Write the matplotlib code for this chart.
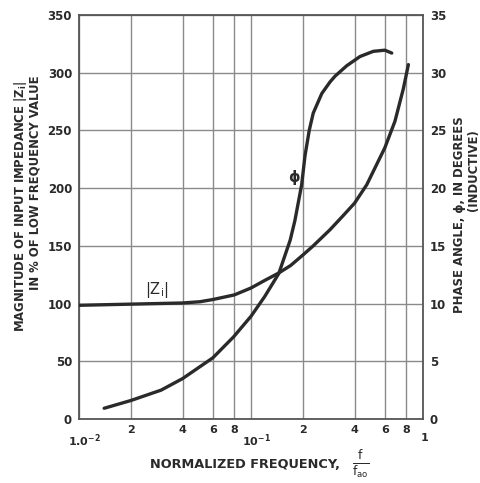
import matplotlib
matplotlib.use("Agg")
import matplotlib.pyplot as plt
from matplotlib.ticker import FixedLocator, NullFormatter
from matplotlib.transforms import ScaledTranslation

# ---- data ----
z_freq = [0.01, 0.02, 0.04, 0.0505, 0.06, 0.08, 0.1, 0.12, 0.145, 0.17, 0.2, 0.23, 0.288,
          0.34, 0.4, 0.471, 0.6, 0.687, 0.768, 0.822]
z_vals = [98.5, 99.5, 100.5, 101.6, 103.5, 107.5, 113.5, 120, 126.5, 133, 142, 150, 164,
          175.5, 187, 203, 235, 258, 286, 307]

phase_freq = [0.014, 0.02, 0.03, 0.04, 0.06, 0.079, 0.1, 0.12, 0.145, 0.169, 0.180, 0.197,
              0.206, 0.218, 0.230, 0.258, 0.288, 0.308, 0.36, 0.43, 0.514, 0.6, 0.658]
phase_deg = [0.93, 1.6, 2.5, 3.5, 5.3, 7.1, 8.9, 10.6, 12.6, 15.5, 17.2, 20.3,
             22.8, 25.0, 26.5, 28.2, 29.2, 29.7, 30.6, 31.4, 31.85, 31.95, 31.7]

left_ticks = [0, 50, 100, 150, 200, 250, 300, 350]
right_ticks = [0, 5, 10, 15, 20, 25, 30, 35]
major_x = [0.01, 0.1, 1]
major_x_labels = ["1.0$^{-2}$", "10$^{-1}$", "1"]
minor_x = [0.02, 0.04, 0.06, 0.08, 0.2, 0.4, 0.6, 0.8]
minor_x_labels = ["2", "4", "6", "8", "2", "4", "6", "8"]

plt.rcParams['font.family'] = ['DejaVu Sans']
plt.rcParams['mathtext.default'] = 'regular'

ink = "#2a2a2a"
gridc = "#8a8a8a"

fig = plt.figure(figsize=(4.8, 4.83), dpi=100)
ax = fig.add_axes([0.1646, 0.1325, 0.7167, 0.8365])
ax.set_xscale("log")
ax.set_xlim(0.01, 1)
ax.set_ylim(0, 350)

ax.xaxis.set_major_locator(FixedLocator(major_x))
ax.set_xticklabels(major_x_labels)
ax.xaxis.set_minor_locator(FixedLocator(minor_x))
ax.xaxis.set_minor_formatter(NullFormatter())
ax.set_xticklabels(minor_x_labels, minor=True)
ax.set_yticks(left_ticks)

ax.tick_params(axis="x", which="major", length=0, pad=10, labelsize=8, colors=ink)
ax.tick_params(axis="x", which="minor", length=0, pad=4, labelsize=8, colors=ink)
ax.tick_params(axis="y", length=0, pad=5, labelsize=8.5, colors=ink)
for lab in ax.get_xticklabels() + ax.get_xticklabels(minor=True) + ax.get_yticklabels():
    lab.set_fontweight("bold")
# decade labels sit slightly right of their grid lines in the reference
for lab, dx in zip(ax.get_xticklabels(), [6, 5, 2]):
    lab.set_transform(lab.get_transform() + ScaledTranslation(dx / 100, 0, fig.dpi_scale_trans))

ax.grid(True, which="both", axis="x", color=gridc, lw=1.0)
ax.grid(True, which="major", axis="y", color=gridc, lw=1.0)
for s in ax.spines.values():
    s.set_color("#555555")
    s.set_linewidth(1.3)

ax.plot(z_freq, z_vals, color=ink, lw=2.4, solid_capstyle="round", solid_joinstyle="round", zorder=3)

ax2 = ax.twinx()
ax2.set_ylim(0, 35)
ax2.set_yticks(right_ticks)
ax2.tick_params(axis="y", length=0, pad=5, labelsize=8.5, colors=ink)
for lab in ax2.get_yticklabels():
    lab.set_fontweight("bold")
for s in ax2.spines.values():
    s.set_visible(False)
ax2.plot(phase_freq, phase_deg, color=ink, lw=2.4, solid_capstyle="round", solid_joinstyle="round", zorder=3)

# curve labels
ax.text(0.0285, 112, "|Z$_i$|", fontsize=10.5, color=ink, ha="center", va="center")
ax.text(0.178, 209, "ϕ", fontsize=10.5, color=ink, ha="center", va="center", fontweight="bold")

# axis titles
fig.text(20.5 / 480, 1 - 207 / 483, "MAGNITUDE OF INPUT IMPEDANCE |Z$_i$|", rotation=90,
         ha="center", va="center", fontsize=8.4, fontweight="bold", color=ink)
fig.text(35.5 / 480, 1 - 183 / 483, "IN % OF LOW FREQUENCY VALUE", rotation=90,
         ha="center", va="center", fontsize=8.4, fontweight="bold", color=ink)
fig.text(460 / 480, 1 - 215 / 483, "PHASE ANGLE, ϕ, IN DEGREES", rotation=90,
         ha="center", va="center", fontsize=8.4, fontweight="bold", color=ink)
fig.text(473.5 / 480, 1 - 170 / 483, "(INDUCTIVE)", rotation=90,
         ha="center", va="center", fontsize=8.4, fontweight="bold", color=ink)
fig.text(340 / 480, 1 - 465 / 483, "NORMALIZED FREQUENCY,", ha="right", va="center",
         fontsize=9.3, fontweight="bold", color=ink)
fig.text(361 / 480, 1 - 464 / 483, r"$\frac{f}{f_{ao}}$", ha="center", va="center",
         fontsize=12.5, color=ink)

fig.savefig("out.png", dpi=100, facecolor="white")
